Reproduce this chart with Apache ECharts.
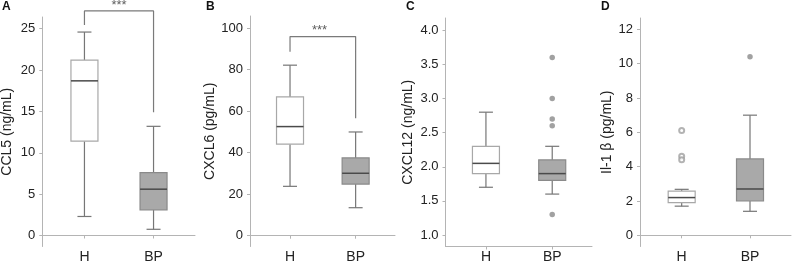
<!DOCTYPE html>
<html>
<head>
<meta charset="utf-8">
<script src="https://cdn.jsdelivr.net/npm/echarts@6/dist/echarts.min.js"></script>
<style>
  html, body { margin: 0; padding: 0; background: #fff; }
  #main { width: 792px; height: 263px; }
</style>
</head>
<body>
<div id="main"></div>
<script>
const groups = ['H', 'BP']
const groupPos = [1, 2]

// [min, Q1, median, Q3, max] for H and BP
const ccl5 = [[2.3, 11.4, 18.7, 21.2, 24.6], [0.75, 3.1, 5.6, 7.6, 13.2]]
const cxcl6 = [[23.8, 44.1, 52.6, 66.9, 82.2], [13.5, 24.9, 30.1, 37.5, 50.0]]
const cxcl12 = [[1.7, 1.9, 2.05, 2.3, 2.8], [1.6, 1.8, 1.9, 2.1, 2.3]]
const il1b = [[1.7, 1.9, 2.2, 2.58, 2.68], [1.4, 2.0, 2.7, 4.45, 7.0]]

// outliers
const cxcl12Out = [[], [3.6, 3.0, 2.7, 2.6, 1.3]]
const il1bOut = [[6.1, 4.6, 4.4], [10.4]]

// significance brackets (x, y) and *** label spot
const ccl5Bracket = [[1, 25.45], [1, 27.15], [2, 27.15], [2, 14.9]]
const cxcl6Bracket = [[1, 88.7], [1, 96.0], [2, 96.0], [2, 56.6]]
const ccl5Star = [1.5, 27.8]
const cxcl6Star = [1.45, 99.0]

// y tick labels
const ccl5Ticks = [0, 5, 10, 15, 20, 25]
const cxcl6Ticks = [0, 20, 40, 60, 80, 100]
const cxcl12Ticks = [1.0, 1.5, 2.0, 2.5, 3.0, 3.5, 4.0]
const il1bTicks = [0, 2, 4, 6, 8, 10, 12]

const panels = [
  { letter: 'A', name: 'CCL5 (ng/mL)', box: ccl5, out: [[], []], ticks: ccl5Ticks, digits: 0,
    yMin: -1.33, yMax: 26.42, left: 42.3, width: 152.7, top: 17, bottom: 246.5, nameGap: 28, letterX: 2,
    bracket: ccl5Bracket, star: ccl5Star },
  { letter: 'B', name: 'CXCL6 (pg/mL)', box: cxcl6, out: [[], []], ticks: cxcl6Ticks, digits: 0,
    yMin: -5.2, yMax: 105.9, left: 250, width: 145, top: 16, bottom: 246.5, nameGap: 33, letterX: 206,
    bracket: cxcl6Bracket, star: cxcl6Star },
  { letter: 'C', name: 'CXCL12 (ng/mL)', box: cxcl12, out: cxcl12Out, ticks: cxcl12Ticks, digits: 1,
    yMin: 0.832, yMax: 4.18, left: 445.5, width: 146.5, top: 18, bottom: 246.5, nameGap: 30, letterX: 406 },
  { letter: 'D', name: 'Il-1 β (pg/mL)', box: il1b, out: il1bOut, ticks: il1bTicks, digits: 0,
    yMin: -0.65, yMax: 12.66, left: 640, width: 151, top: 18, bottom: 246.5, nameGap: 24, letterX: 601,
    hollowH: true }
]

const BOX_W = 27
const CAP_W = 14
const axisColor = '#b4b4b4'
const textColor = '#222'
const boxStyles = [
  { fill: '#fff', border: '#a8a8a8', whisker: '#767676', median: '#4a4a4a' },
  { fill: '#a9a9a9', border: '#8a8a8a', whisker: '#767676', median: '#4a4a4a' }
]

function renderBox (params, api) {
  const x = api.value(0)
  const s = boxStyles[params.dataIndex]
  const lo = api.coord([x, api.value(1)])
  const q1 = api.coord([x, api.value(2)])
  const md = api.coord([x, api.value(3)])
  const q3 = api.coord([x, api.value(4)])
  const hi = api.coord([x, api.value(5)])
  const cx = lo[0]
  const line = (x1, y1, x2, y2, color, w) => ({
    type: 'line',
    shape: { x1, y1, x2, y2 },
    style: { stroke: color, lineWidth: w || 1.2 }
  })
  return {
    type: 'group',
    children: [
      line(cx, hi[1], cx, q3[1], s.whisker),
      line(cx, q1[1], cx, lo[1], s.whisker),
      line(cx - CAP_W / 2, hi[1], cx + CAP_W / 2, hi[1], s.whisker),
      line(cx - CAP_W / 2, lo[1], cx + CAP_W / 2, lo[1], s.whisker),
      {
        type: 'rect',
        shape: { x: cx - BOX_W / 2, y: q3[1], width: BOX_W, height: q1[1] - q3[1] },
        style: { fill: s.fill, stroke: s.border, lineWidth: 1.2 }
      },
      line(cx - BOX_W / 2, md[1], cx + BOX_W / 2, md[1], s.median, 1.5)
    ]
  }
}

const option = {
  animation: false,
  title: [],
  grid: [],
  xAxis: [],
  yAxis: [],
  series: []
}

panels.forEach((p, i) => {
  option.title.push({
    text: p.letter, left: p.letterX, top: 1, padding: 0,
    textStyle: { fontFamily: 'Liberation Sans', fontWeight: 'bold', fontSize: 12, color: '#111' }
  })
  option.grid.push({
    left: p.left, top: p.top, width: p.width, height: p.bottom - p.top,
    containLabel: false, outerBoundsMode: 'none'
  })
  option.xAxis.push({
    gridIndex: i, type: 'value', min: 0.39, max: 2.6,
    axisLine: { show: true, lineStyle: { color: axisColor, width: 1 } },
    axisTick: { show: true, customValues: groupPos, length: 3, lineStyle: { color: axisColor } },
    axisLabel: {
      customValues: groupPos, margin: 4, color: textColor, fontSize: 14, fontFamily: 'Liberation Sans',
      formatter: v => groups[groupPos.indexOf(v)] || ''
    },
    splitLine: { show: false }
  })
  option.yAxis.push({
    gridIndex: i, type: 'value', min: p.yMin, max: p.yMax,
    name: p.name, nameLocation: 'middle', nameGap: p.nameGap, nameRotate: 90,
    nameTextStyle: { color: textColor, fontSize: 14, fontFamily: 'Liberation Sans' },
    axisLine: { show: true, lineStyle: { color: axisColor, width: 1 } },
    axisTick: { show: true, customValues: p.ticks, length: 3, lineStyle: { color: axisColor } },
    axisLabel: {
      customValues: p.ticks, margin: 7, color: textColor, fontSize: 13, fontFamily: 'Liberation Sans',
      formatter: v => v.toFixed(p.digits)
    },
    splitLine: { show: false }
  })
  option.series.push({
    type: 'custom', xAxisIndex: i, yAxisIndex: i,
    renderItem: renderBox,
    encode: { x: 0, y: [1, 2, 3, 4, 5] },
    data: p.box.map((b, g) => [groupPos[g]].concat(b)),
    z: 2
  })
  p.out.forEach((vals, g) => {
    if (!vals.length) return
    const hollow = p.hollowH && g === 0
    option.series.push({
      type: 'scatter', xAxisIndex: i, yAxisIndex: i,
      symbol: hollow ? 'emptyCircle' : 'circle',
      symbolSize: hollow ? 5 : 5.5,
      itemStyle: hollow ? { color: '#a0a0a0', borderColor: '#a0a0a0', borderWidth: 1.2 } : { color: '#8a8a8a' },
      data: vals.map(v => [groupPos[g], v]),
      z: 3
    })
  })
  if (p.bracket) {
    option.series.push({
      type: 'line', xAxisIndex: i, yAxisIndex: i, clip: false,
      symbol: 'none',
      lineStyle: { color: '#7a7a7a', width: 1.2 },
      data: p.bracket
    })
    option.series.push({
      type: 'scatter', xAxisIndex: i, yAxisIndex: i, clip: false,
      symbolSize: 1, itemStyle: { color: 'rgba(0,0,0,0)' },
      label: {
        show: true, position: 'inside', formatter: '***',
        color: '#333', fontSize: 13, fontFamily: 'Liberation Sans'
      },
      data: [p.star]
    })
  }
})

const chart = echarts.init(document.getElementById('main'), null, { renderer: 'canvas' })
chart.setOption(option)
</script>
</body>
</html>
